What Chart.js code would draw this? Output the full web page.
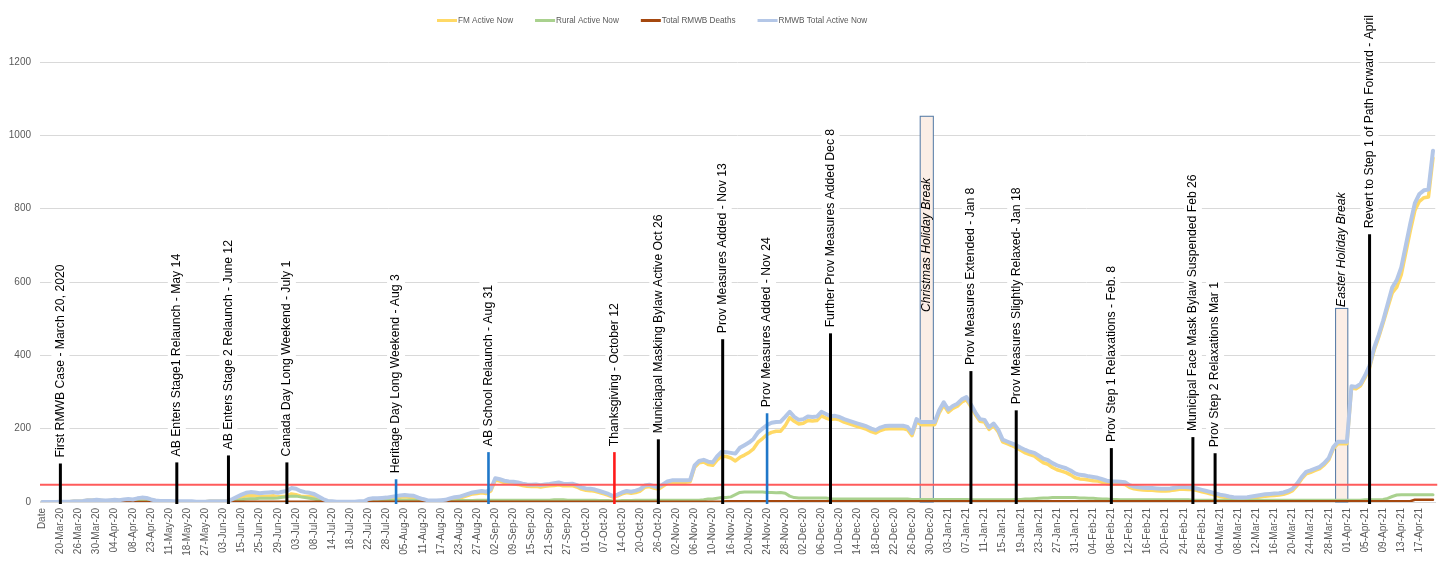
<!DOCTYPE html>
<html>
<head>
<meta charset="utf-8">
<script src="https://cdn.jsdelivr.net/npm/chart.js@4.4.1/dist/chart.umd.min.js"></script>
<style>
  html, body { margin: 0; padding: 0; background: #fff; }
  #wrap { width: 1451px; height: 561px; position: relative; }
</style>
</head>
<body>
<div id="wrap"><canvas id="myChart"></canvas></div>
<script>
// every 4th row of the sheet gets a label on the axis
const tickLabels = ['Date','20-Mar-20','26-Mar-20','30-Mar-20','04-Apr-20','08-Apr-20','23-Apr-20','11-May-20','18-May-20','27-May-20',
  '03-Jun-20','15-Jun-20','25-Jun-20','29-Jun-20','03-Jul-20','08-Jul-20','14-Jul-20','18-Jul-20','22-Jul-20','28-Jul-20',
  '05-Aug-20','11-Aug-20','17-Aug-20','23-Aug-20','27-Aug-20','02-Sep-20','09-Sep-20','15-Sep-20','21-Sep-20','27-Sep-20',
  '01-Oct-20','07-Oct-20','14-Oct-20','20-Oct-20','26-Oct-20','02-Nov-20','06-Nov-20','10-Nov-20','16-Nov-20','20-Nov-20',
  '24-Nov-20','28-Nov-20','02-Dec-20','06-Dec-20','10-Dec-20','14-Dec-20','18-Dec-20','22-Dec-20','26-Dec-20','30-Dec-20',
  '03-Jan-21','07-Jan-21','11-Jan-21','15-Jan-21','19-Jan-21','23-Jan-21','27-Jan-21','31-Jan-21','04-Feb-21','08-Feb-21',
  '12-Feb-21','16-Feb-21','20-Feb-21','24-Feb-21','28-Feb-21','04-Mar-21','08-Mar-21','12-Mar-21','16-Mar-21','20-Mar-21',
  '24-Mar-21','28-Mar-21','01-Apr-21','05-Apr-21','09-Apr-21','13-Apr-21','17-Apr-21'];

const totalActive = [
  0,0,0,0,1,1,1,2,2,3,
  5,5,6,5,4,5,6,5,7,8,
  7,10,12,11,7,4,3,3,3,2,
  2,2,2,2,1,1,1,2,2,2,
  2,3,8,14,20,25,27,26,24,25,
  26,27,25,28,30,38,36,30,27,25,
  22,15,8,3,2,1,1,1,1,1,
  2,2,8,10,10,11,12,14,16,18,
  19,18,17,12,8,5,4,4,5,6,
  10,13,14,18,22,26,28,30,28,35,
  65,62,58,56,55,53,50,48,47,48,
  46,48,49,51,53,50,49,50,46,40,
  37,36,34,30,26,22,16,20,26,30,
  28,31,35,45,47,43,40,48,56,59,
  59,59,59,60,100,112,115,110,108,125,
  137,136,134,132,148,155,162,172,190,200,
  210,216,218,219,232,246,232,224,226,233,
  232,233,246,240,234,235,232,226,222,218,
  214,210,206,200,196,203,207,208,208,208,
  208,205,188,226,218,218,218,218,250,272,
  252,262,268,280,286,266,244,226,224,204,
  214,198,170,165,160,155,148,142,137,134,
  126,118,114,106,100,96,92,86,78,74,
  73,70,68,66,62,58,56,56,55,54,
  46,42,40,39,38,38,37,36,36,37,
  39,41,41,40,39,36,33,30,27,23,
  20,18,15,13,12,12,13,15,17,19,
  21,22,23,24,26,30,36,50,68,82,
  86,91,96,106,120,150,164,164,164,316,
  314,322,345,372,420,455,495,540,585,605,
  640,700,760,815,840,850,852,958];

const ruralActive = [
  0,0,0,0,0,0,0,0,0,0,
  0,0,1,1,1,1,1,1,2,2,
  2,2,2,2,1,1,1,1,1,1,
  1,1,1,1,0,0,0,0,0,0,
  0,0,2,4,6,8,9,9,10,10,
  10,10,11,13,14,16,16,14,12,10,
  8,5,3,1,1,0,0,0,0,0,
  1,1,3,3,4,4,4,4,5,5,
  5,5,5,4,3,2,2,2,2,3,
  3,3,4,4,4,4,5,5,5,5,
  5,5,5,5,5,5,5,5,5,5,
  5,5,5,6,6,6,5,5,5,5,
  5,5,5,4,4,4,3,3,4,4,
  4,5,5,5,5,5,5,5,5,5,
  5,5,5,5,5,5,6,8,8,10,
  12,12,14,20,26,27,27,27,27,27,
  26,26,25,26,24,16,12,11,11,11,
  11,11,11,11,9,8,8,8,8,8,
  8,8,8,8,8,8,8,8,8,8,
  8,8,7,7,7,7,7,7,7,7,
  7,7,7,7,7,6,6,6,6,6,
  6,6,6,6,6,7,7,8,8,9,
  10,11,11,12,12,12,12,12,12,11,
  11,10,10,9,8,8,7,7,6,6,
  6,6,6,6,6,6,6,6,6,6,
  6,6,6,6,5,5,5,5,5,5,
  5,5,5,5,5,5,5,5,5,5,
  5,5,5,5,5,5,5,5,5,5,
  5,5,5,5,5,5,5,5,5,5,
  5,5,6,6,6,6,7,10,15,19,
  20,20,20,20,20,20,20,20];

const fmActive = [
  0,0,0,0,1,1,1,2,2,3,
  5,5,5,4,3,4,5,4,5,6,
  5,8,10,9,6,3,2,2,2,1,
  1,1,1,1,1,1,1,2,2,2,
  2,3,6,10,14,17,18,17,14,15,
  16,17,14,15,16,22,20,16,15,15,
  14,10,5,2,1,1,1,1,1,1,
  1,1,5,7,6,7,8,10,11,13,
  14,13,12,8,5,3,2,2,3,3,
  7,10,10,14,18,22,23,25,23,30,
  60,57,53,51,50,48,45,43,42,43,
  41,43,44,45,47,44,44,45,41,35,
  32,31,29,26,22,18,13,17,22,26,
  24,26,30,40,42,38,35,43,51,54,
  54,54,54,55,95,107,109,102,100,115,
  125,124,120,112,122,128,135,145,163,173,
  184,190,193,193,208,230,220,213,215,222,
  221,222,235,229,225,227,224,218,214,210,
  206,202,198,192,188,195,199,200,200,200,
  200,197,181,219,211,211,211,211,243,265,
  245,255,261,273,279,260,238,220,218,198,
  208,192,164,159,154,148,141,134,129,125,
  116,107,103,94,88,84,80,74,66,63,
  62,60,58,57,54,50,49,49,49,48,
  40,36,34,33,32,32,31,30,30,31,
  33,35,35,34,34,31,28,25,22,18,
  15,13,10,8,7,7,8,10,12,14,
  16,17,18,19,21,25,31,45,63,77,
  81,86,91,101,115,145,159,159,159,311,
  309,317,339,366,414,449,488,530,570,586,
  620,680,740,795,820,830,832,938];

const rmwbDeaths = [
  0,0,0,0,0,0,0,0,0,0,
  0,0,0,0,0,0,0,0,0,0,
  0,0,0,0,0,0,0,0,0,0,
  0,0,0,0,0,0,0,0,0,0,
  0,1,1,1,1,1,1,1,1,1,
  1,1,1,1,1,1,1,1,1,1,
  1,1,1,1,1,1,1,1,1,1,
  1,1,1,1,1,1,1,1,1,1,
  1,1,1,1,1,1,1,1,1,1,
  1,1,1,1,1,1,1,1,1,1,
  1,1,1,1,1,1,1,1,1,1,
  1,1,1,1,1,1,1,1,1,1,
  1,1,1,1,1,1,1,1,1,1,
  1,1,1,1,1,1,1,1,1,1,
  1,1,1,1,1,1,1,1,1,1,
  1,2,2,2,2,2,2,2,2,2,
  2,2,2,2,2,2,2,2,2,2,
  2,2,2,2,2,2,2,2,2,2,
  2,2,2,2,2,2,2,2,2,2,
  2,2,2,2,2,2,2,2,2,2,
  2,2,2,2,2,2,2,2,2,2,
  2,2,2,2,2,2,2,2,2,2,
  2,2,2,2,2,2,2,2,2,2,
  2,2,2,2,2,2,2,2,2,2,
  2,2,2,2,2,2,2,2,2,2,
  2,2,2,2,2,2,2,2,2,2,
  2,2,2,2,2,2,2,2,2,2,
  2,2,2,2,2,2,2,2,2,2,
  2,2,2,2,2,2,2,2,2,2,
  2,2,2,2,2,2,2,2,2,2,
  2,2,2,6,6,6,6,6];

// event markers: row on the axis, height of the marker, caption
const eventAt = [4, 29.7, 41.1, 54, 78.1, 98.5, 126.3, 136, 150.2, 160, 174, 205, 215, 236, 254, 258.9, 293];
const eventTop = [105, 108, 127, 108, 62, 136, 136, 171, 444, 242, 460, 357, 250, 147, 177, 133, 730];
const eventText = [
  'First RMWB Case - March 20, 2020',
  'AB Enters Stage1 Relaunch - May 14',
  'AB Enters Stage 2 Relaunch - June 12',
  'Canada Day Long Weekend - July 1',
  'Heritage Day Long Weekend - Aug 3',
  'AB School Relaunch - Aug 31',
  'Thanksgiving - October 12',
  'Municiapal Masking Bylaw Active Oct 26',
  'Prov Measures Added - Nov 13',
  'Prov Measures Added - Nov 24',
  'Further Prov Measures Added Dec 8',
  'Prov Measures Extended - Jan 8',
  'Prov Measures Slightly Relaxed- Jan 18',
  'Prov Step 1 Relaxations - Feb. 8',
  'Municipal Face Mask Bylaw Suspended Feb 26',
  'Prov Step 2 Relaxations Mar 1',
  'Revert to Step 1 of Path Forward - April'];
const eventColor = ['#000','#000','#000','#000','#1f77c9','#1f77c9','#ff1a1a','#000','#000','#1f77c9','#000','#000','#000','#000','#000','#000','#000'];

// holiday break boxes
const breakStart = [193.8, 285.5];
const breakEnd = [196.7, 288.2];
const breakTop = [1052, 528];
const breakTextAt = [518, 532];
const breakText = ['Christmas Holiday Break', 'Easter Holiday Break'];

const thresholdValue = 47;

const categories = totalActive.map((v, i) => (i % 4 === 0 && tickLabels[i / 4]) ? tickLabels[i / 4] : '');

const FONT = '"Liberation Sans", Arial, sans-serif';
const EVENT_FONT = '12.2px ' + FONT;

const markers = {
  id: 'markers',
  beforeDatasetsDraw(chart) {
    const {ctx, scales: {x, y}} = chart;
    ctx.save();
    breakStart.forEach((s, k) => {
      const x0 = x.getPixelForValue(s), x1 = x.getPixelForValue(breakEnd[k]);
      const top = y.getPixelForValue(breakTop[k]), bot = y.getPixelForValue(0);
      ctx.fillStyle = '#fbeee6';
      ctx.fillRect(x0, top, x1 - x0, bot - top);
      ctx.strokeStyle = '#4f76a3';
      ctx.lineWidth = 1;
      ctx.strokeRect(x0, top, x1 - x0, bot - top);
    });
    ctx.font = EVENT_FONT;
    eventText.forEach((t, k) => {
      const cx = x.getPixelForValue(eventAt[k]);
      const base = y.getPixelForValue(eventTop[k]) - 6;
      const w = ctx.measureText(t).width;
      ctx.fillStyle = '#fff';
      ctx.fillRect(cx - 9, base - w - 4, 18, w + 6);
    });
    ctx.restore();
  },
  afterDatasetsDraw(chart) {
    const {ctx, chartArea, scales: {x, y}} = chart;
    ctx.save();
    // threshold line
    const ty = y.getPixelForValue(thresholdValue);
    ctx.strokeStyle = '#ff5b5b';
    ctx.lineWidth = 2;
    ctx.beginPath();
    ctx.moveTo(chartArea.left, ty);
    ctx.lineTo(chartArea.right + 2, ty);
    ctx.stroke();

    // event lines + captions
    ctx.font = EVENT_FONT;
    ctx.textBaseline = 'middle';
    ctx.textAlign = 'left';
    eventText.forEach((t, k) => {
      const cx = x.getPixelForValue(eventAt[k]);
      const top = y.getPixelForValue(eventTop[k]);
      ctx.strokeStyle = eventColor[k];
      ctx.lineWidth = eventColor[k] === '#000' ? 3 : 2.6;
      ctx.beginPath();
      ctx.moveTo(cx, top);
      ctx.lineTo(cx, y.getPixelForValue(0) + 2);
      ctx.stroke();
      ctx.save();
      ctx.translate(cx, top - 6);
      ctx.rotate(-Math.PI / 2);
      ctx.fillStyle = '#000';
      ctx.fillText(t, 0, 0);
      ctx.restore();
    });

    ctx.font = 'italic ' + EVENT_FONT;
    breakText.forEach((t, k) => {
      const cx = (x.getPixelForValue(breakStart[k]) + x.getPixelForValue(breakEnd[k])) / 2;
      ctx.save();
      ctx.translate(cx, y.getPixelForValue(breakTextAt[k]));
      ctx.rotate(-Math.PI / 2);
      ctx.fillStyle = '#000';
      ctx.fillText(t, 0, 0);
      ctx.restore();
    });
    ctx.restore();
  },
  afterDraw(chart) {
    // legend strip along the top
    const {ctx} = chart;
    ctx.save();
    ctx.font = '8.2px ' + FONT;
    ctx.textBaseline = 'middle';
    ctx.textAlign = 'left';
    let lx = 437;
    const ly = 20.5;
    chart.data.datasets.forEach(ds => {
      ctx.fillStyle = ds.borderColor;
      ctx.fillRect(lx, ly - 1.5, 20, 3);
      ctx.fillStyle = '#595959';
      ctx.fillText(ds.label, lx + 21, ly);
      lx += 21 + ctx.measureText(ds.label).width + 22;
    });
    ctx.restore();
  }
};

let ctx = document.getElementById('myChart').getContext('2d');
let chart = new Chart(ctx, {
  type: 'line',
  data: {
    labels: categories,
    datasets: [
      { label: 'FM Active Now', data: fmActive, borderColor: '#ffd966', borderWidth: 3.5, order: 4 },
      { label: 'Rural Active Now', data: ruralActive, borderColor: '#a9d18e', borderWidth: 3, order: 3 },
      { label: 'Total RMWB Deaths', data: rmwbDeaths, borderColor: '#a5480f', borderWidth: 2.5, order: 2 },
      { label: 'RMWB Total Active Now', data: totalActive, borderColor: '#b4c7e7', borderWidth: 4, order: 1 }
    ]
  },
  options: {
    responsive: true,
    maintainAspectRatio: false,
    animation: false,
    layout: { padding: { top: 62, right: 8, left: 0, bottom: 0 } },
    elements: {
      point: { radius: 0 },
      line: { tension: 0, borderJoinStyle: 'round', borderCapStyle: 'round', fill: false }
    },
    plugins: { legend: { display: false }, tooltip: { enabled: false } },
    scales: {
      x: {
        offset: true,
        grid: { display: false, drawTicks: false },
        border: { display: true, color: '#d9d9d9' },
        ticks: {
          autoSkip: false, maxRotation: 90, minRotation: 90, padding: 6,
          color: '#595959', font: { family: FONT, size: 10 }
        },
        afterFit(s) { s.height = 59; }
      },
      y: {
        min: 0, max: 1200,
        ticks: {
          stepSize: 200, padding: 9, color: '#595959', font: { family: FONT, size: 10 },
          callback: (v) => String(v)
        },
        grid: { color: '#d9d9d9', drawTicks: false },
        border: { display: false },
        afterFit(s) { s.width = 40; }
      }
    }
  },
  plugins: [markers]
});
</script>
</body>
</html>
